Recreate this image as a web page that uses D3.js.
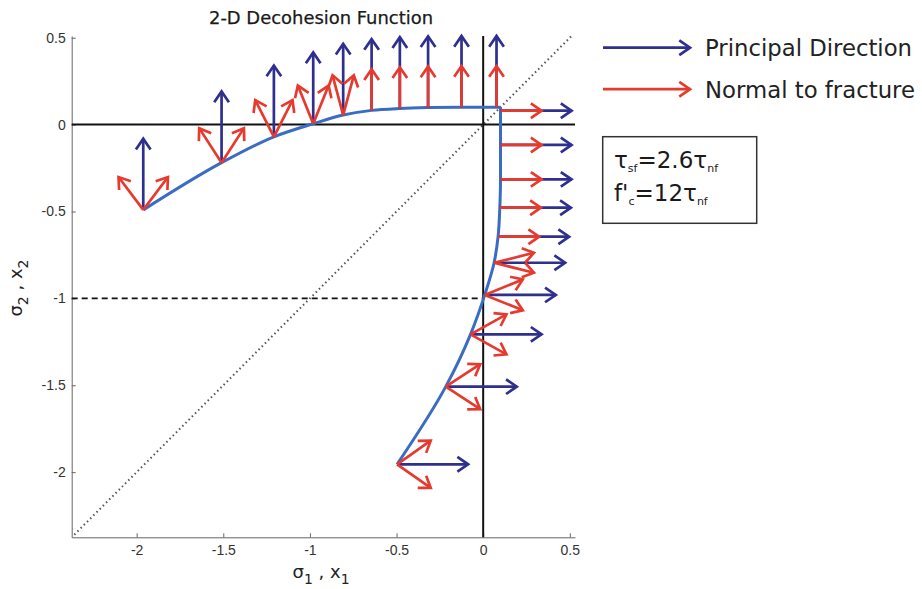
<!DOCTYPE html>
<html><head><meta charset="utf-8">
<script src="https://cdn.jsdelivr.net/npm/d3@7"></script>
<style>body{margin:0;background:#fff}svg{display:block}</style>
</head><body>
<svg id="c" width="922" height="589"></svg>
<script>
// ---------- data ----------
const xTicks = [-2, -1.5, -1, -0.5, 0, 0.5];
const yTicks = [0.5, 0, -0.5, -1, -1.5, -2];

// decohesion surface, upper (tension-shear) branch
const topCurveX = [-1.962, -1.51, -1.208, -0.981, -0.808, -0.644, -0.481, -0.318, -0.125, 0.1];
const topCurveY = [-0.491, -0.219, -0.07, 0.005, 0.055, 0.082, 0.093, 0.098, 0.1, 0.1];
// right (compression) branch, ordered by increasing sigma2
const rightCurveX = [-0.497, -0.216, -0.073, 0.009, 0.063, 0.086, 0.096, 0.1, 0.1, 0.1];
const rightCurveY = [-1.955, -1.508, -1.207, -0.98, -0.795, -0.645, -0.478, -0.315, -0.117, 0.1];

// arrows: base point, principal direction, angle of fracture normal (deg)
const arrowX   = [-1.962, -1.51, -1.208, -0.981, -0.808, -0.644, -0.481, -0.318, -0.125, 0.077,
                  0.1, 0.1, 0.1, 0.096, 0.086, 0.063, 0.009, -0.073, -0.216, -0.497];
const arrowY   = [-0.491, -0.219, -0.07, 0.005, 0.055, 0.082, 0.093, 0.098, 0.1, 0.1,
                  0.08, -0.117, -0.315, -0.478, -0.645, -0.795, -0.98, -1.207, -1.508, -1.955];
const arrowDir = ["up","up","up","up","up","up","up","up","up","up",
                  "right","right","right","right","right","right","right","right","right","right"];
const fractureAngle = [37, 33, 27, 22, 15, 0, 0, 0, 0, 0,
                       0, 0, 0, 0, 0, 14, 22, 29, 33, 35];
const principalLength = 0.41;
const normalLength = 0.237;

const legendLabels = ["Principal Direction", "Normal to fracture"];

// ---------- drawing ----------
const svg = d3.select("#c");
const BLUE_CURVE = "#3a6cc3", NAVY = "#2e2f8f", RED = "#e63a2e";

const x = d3.scaleLinear().domain([-2.375, 0.53]).range([71.7, 575]);
const y = d3.scaleLinear().domain([-2.375, 0.51]).range([537.3, 36]);
const fmt = d => String(d);

// title
svg.append("text").attr("x", 321).attr("y", 24).attr("text-anchor", "middle")
  .attr("font-family", "DejaVu Sans").attr("font-size", 17.5).attr("fill", "#1a1a1a")
  .attr("stroke", "#1a1a1a").attr("stroke-width", 0.25)
  .attr("textLength", 224).attr("lengthAdjust", "spacingAndGlyphs")
  .text("2-D Decohesion Function");

// axes
const gx = svg.append("g").attr("transform", `translate(0,${y.range()[0]})`)
  .call(d3.axisBottom(x).tickValues(xTicks).tickFormat(fmt).tickSizeInner(-4).tickSizeOuter(0).tickPadding(8));
const gy = svg.append("g").attr("transform", `translate(${x.range()[0]},0)`)
  .call(d3.axisLeft(y).tickValues(yTicks).tickFormat(fmt).tickSizeInner(-4).tickSizeOuter(0).tickPadding(6));
[gx, gy].forEach(g => {
  g.selectAll("path,line").attr("stroke", "#666").attr("stroke-width", 1);
  g.selectAll("text").attr("font-family", "Liberation Sans, Arial, sans-serif").attr("font-size", 14).attr("fill", "#333");
});

// diagonal y = x (dotted)
svg.append("line")
  .attr("x1", x(-2.36)).attr("y1", y(-2.36)).attr("x2", x(0.51)).attr("y2", y(0.51))
  .attr("stroke", "#555").attr("stroke-width", 2).attr("stroke-dasharray", "1.5,3");

// zero lines
svg.append("line").attr("x1", x.range()[0]).attr("x2", x.range()[1]).attr("y1", y(0)).attr("y2", y(0))
  .attr("stroke", "#111").attr("stroke-width", 2);
svg.append("line").attr("x1", x(0)).attr("x2", x(0)).attr("y1", y.range()[0]).attr("y2", y.range()[1])
  .attr("stroke", "#111").attr("stroke-width", 2);
// dashed sigma2 = -1
svg.append("line").attr("x1", x.range()[0]).attr("x2", x(0)).attr("y1", y(-1)).attr("y2", y(-1))
  .attr("stroke", "#111").attr("stroke-width", 1.6).attr("stroke-dasharray", "6,4");

// curve
const topPts = topCurveX.map((v, i) => [v, topCurveY[i]]);
const rightPts = rightCurveX.map((v, i) => [v, rightCurveY[i]]);
svg.append("path").attr("d", d3.line().x(d => x(d[0])).y(d => y(d[1])).curve(d3.curveMonotoneX)(topPts))
  .attr("fill", "none").attr("stroke", BLUE_CURVE).attr("stroke-width", 3);
svg.append("path").attr("d", d3.line().x(d => x(d[0])).y(d => y(d[1])).curve(d3.curveMonotoneY)(rightPts))
  .attr("fill", "none").attr("stroke", BLUE_CURVE).attr("stroke-width", 3);

// arrow helper (pixel space)
function arrow(g, x0, y0, x1, y1, color) {
  const ang = Math.atan2(y1 - y0, x1 - x0), hl = 13, ha = 0.6;
  g.append("line").attr("x1", x0).attr("y1", y0).attr("x2", x1).attr("y2", y1)
    .attr("stroke", color).attr("stroke-width", 2.7);
  const p = d3.path();
  p.moveTo(x1 - hl * Math.cos(ang - ha), y1 - hl * Math.sin(ang - ha));
  p.lineTo(x1, y1);
  p.lineTo(x1 - hl * Math.cos(ang + ha), y1 - hl * Math.sin(ang + ha));
  g.append("path").attr("d", p.toString()).attr("fill", "none")
    .attr("stroke", color).attr("stroke-width", 2.7).attr("stroke-linejoin", "miter").attr("stroke-linecap", "butt");
}

const gBlue = svg.append("g"), gRed = svg.append("g");
arrowX.forEach((bx, i) => {
  const by = arrowY[i];
  const up = arrowDir[i] === "up";
  const px = up ? [0, 1] : [1, 0];
  arrow(gBlue, x(bx), y(by), x(bx + px[0] * principalLength), y(by + px[1] * principalLength), NAVY);
  const t = fractureAngle[i] * Math.PI / 180;
  const signs = fractureAngle[i] === 0 ? [1] : [1, -1];
  signs.forEach(s => {
    const d = up ? [s * Math.sin(t), Math.cos(t)] : [Math.cos(t), s * Math.sin(t)];
    arrow(gRed, x(bx), y(by), x(bx + d[0] * normalLength), y(by + d[1] * normalLength), RED);
  });
});

// axis labels
const xl = svg.append("text").attr("x", 321).attr("y", 578).attr("text-anchor", "middle")
  .attr("font-family", "DejaVu Sans").attr("font-size", 18).attr("fill", "#222");
xl.append("tspan").text("σ");
xl.append("tspan").attr("dy", 6).attr("font-size", 14).text("1");
xl.append("tspan").attr("dy", -6).text(" , x");
xl.append("tspan").attr("dy", 6).attr("font-size", 14).text("1");

const yl = svg.append("text").attr("transform", "translate(22,288) rotate(-90)").attr("text-anchor", "middle")
  .attr("font-family", "DejaVu Sans").attr("font-size", 18).attr("fill", "#222");
yl.append("tspan").text("σ");
yl.append("tspan").attr("dy", 6).attr("font-size", 14).text("2");
yl.append("tspan").attr("dy", -6).text(" , x");
yl.append("tspan").attr("dy", 6).attr("font-size", 14).text("2");

// legend
const lg = svg.append("g");
[NAVY, RED].forEach((c, i) => {
  const ly = 47.7 + i * 41.5;
  arrow(lg, 603, ly, 690, ly, c);
  lg.append("text").attr("x", 705).attr("y", ly + 8.5)
    .attr("font-family", "DejaVu Sans").attr("font-size", 22.5).attr("fill", "#222")
    .attr("textLength", i === 0 ? 207 : 210).attr("lengthAdjust", "spacingAndGlyphs")
    .text(legendLabels[i]);
});

// parameter box
svg.append("rect").attr("x", 602.7).attr("y", 136.7).attr("width", 154).attr("height", 86.6)
  .attr("fill", "#fff").attr("stroke", "#333").attr("stroke-width", 1.5);
const t1 = svg.append("text").attr("x", 614).attr("y", 168)
  .attr("font-family", "DejaVu Sans").attr("font-size", 23).attr("fill", "#1a1a1a");
t1.append("tspan").text("τ");
t1.append("tspan").attr("dy", 4).attr("font-size", 11).text("sf");
t1.append("tspan").attr("dy", -4).text("=2.6τ");
t1.append("tspan").attr("dy", 4).attr("font-size", 11).text("nf");
const t2 = svg.append("text").attr("x", 614).attr("y", 201)
  .attr("font-family", "DejaVu Sans").attr("font-size", 23).attr("fill", "#1a1a1a");
t2.append("tspan").text("f'");
t2.append("tspan").attr("dy", 4).attr("font-size", 11).text("c");
t2.append("tspan").attr("dy", -4).text("=12τ");
t2.append("tspan").attr("dy", 4).attr("font-size", 11).text("nf");
</script>
</body></html>
